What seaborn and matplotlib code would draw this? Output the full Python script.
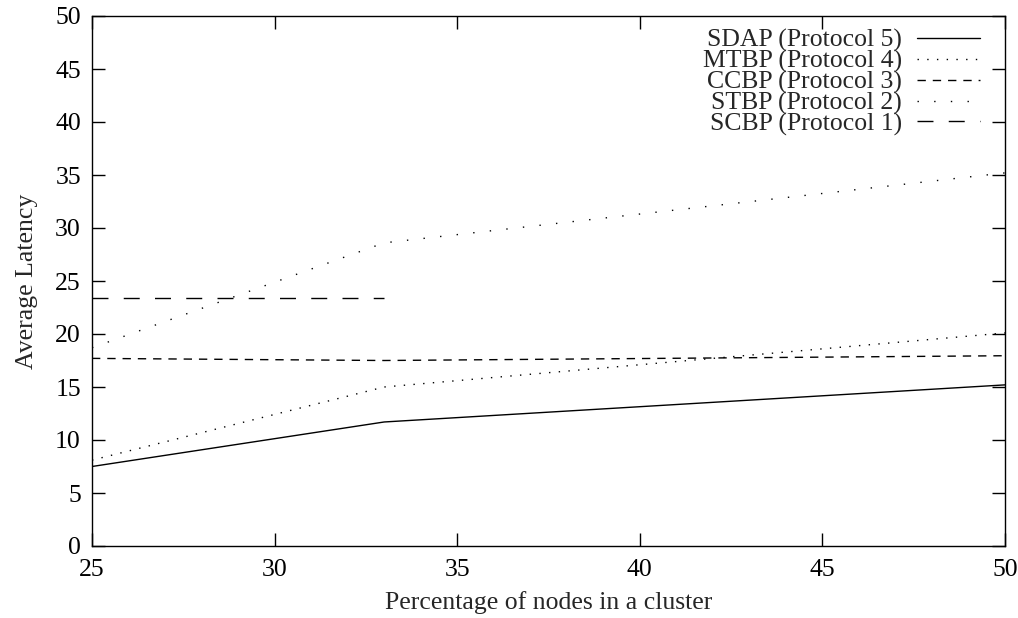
import matplotlib
matplotlib.use("Agg")
import matplotlib.pyplot as plt
import seaborn as sns
import pandas as pd

# Data
x_full = [25, 33, 50]
x_scbp = [25, 33]
sdap = [7.5, 11.7, 15.2]
mtbp = [8.1, 15.0, 20.1]
ccbp = [17.7, 17.5, 17.95]
stbp = [18.7, 28.6, 35.2]
scbp = [23.4, 23.4]

labels = ["SDAP (Protocol 5)", "MTBP (Protocol 4)", "CCBP (Protocol 3)",
          "STBP (Protocol 2)", "SCBP (Protocol 1)"]
x_ticks = [25, 30, 35, 40, 45, 50]
y_ticks = [0, 5, 10, 15, 20, 25, 30, 35, 40, 45, 50]

FS = 18.5

sns.set_theme(style="ticks")
plt.rcParams['font.family'] = ['Liberation Serif', 'DejaVu Serif']
plt.rcParams['font.size'] = FS

fig = plt.figure(figsize=(10.18, 6.18), dpi=100)
ax = fig.add_axes([92/1018, 1 - 546/618, (1005-92)/1018, (546-16)/618])

series = [
    (x_full, sdap, labels[0], '-'),
    (x_full, mtbp, labels[1], (0, (1, 6))),
    (x_full, ccbp, labels[2], (0, (6, 5))),
    (x_full, stbp, labels[3], (0, (1, 11))),
    (x_scbp, scbp, labels[4], (0, (11.5, 11))),
]
for xs, ys, lab, ls in series:
    df = pd.DataFrame({"x": xs, "y": ys})
    sns.lineplot(data=df, x="x", y="y", ax=ax, color="black", linewidth=1.0,
                 linestyle=ls, label=lab, legend=False)

ax.set_xlim(25, 50)
ax.set_ylim(0, 50)
ax.set_xticks(x_ticks)
ax.set_yticks(y_ticks)
ax.set_xlabel("Percentage of nodes in a cluster", fontsize=FS, labelpad=7)
ax.set_ylabel("Average Latency", fontsize=FS, labelpad=12)
ax.tick_params(direction="in", length=9.5, width=1, top=True, right=True,
               labelsize=FS, colors="black")
ax.tick_params(axis="y", pad=8)
ax.tick_params(axis="x", pad=9.5)
for sp in ax.spines.values():
    sp.set_visible(True)
    sp.set_color("black")
    sp.set_linewidth(1.0)

handles, labs = ax.get_legend_handles_labels()
leg = ax.legend(handles, labs, loc="upper right",
                bbox_to_anchor=((980 - 92) / 913, (546 - 29) / 530),
                frameon=False, markerfirst=False,
                fontsize=FS, handlelength=2.45, labelspacing=-0.1, handletextpad=0.58,
                borderaxespad=0.0, borderpad=0.0)

fig.savefig("out.png", dpi=100)
